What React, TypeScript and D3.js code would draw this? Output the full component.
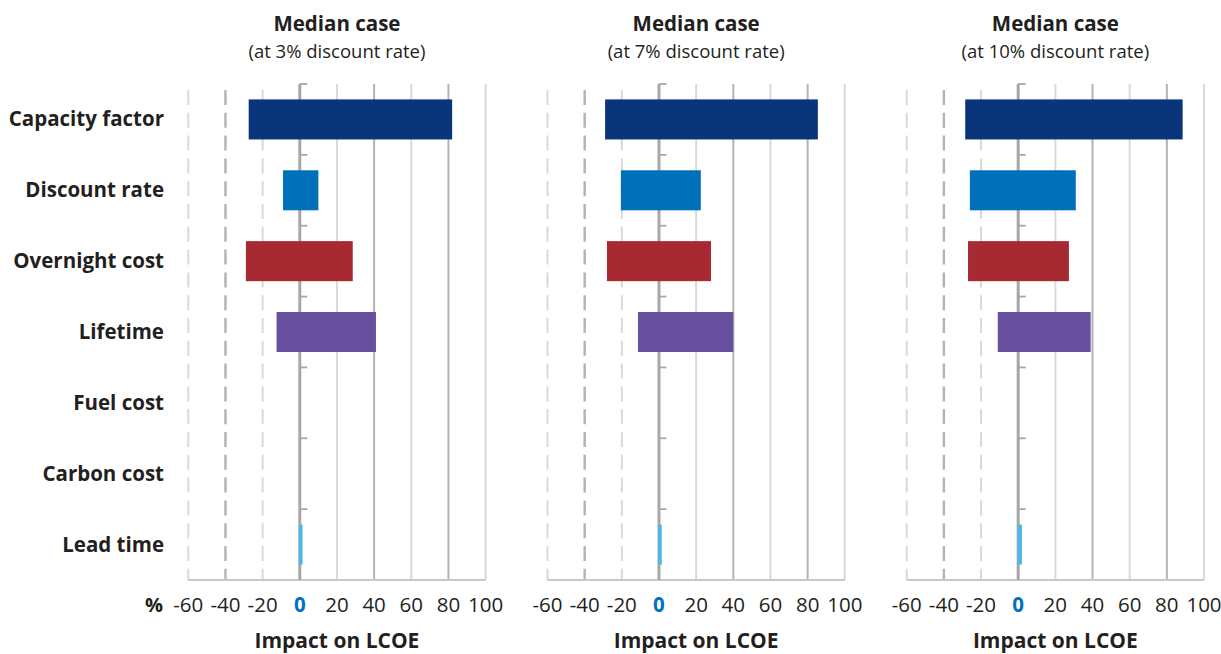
import React from "react";
import * as d3 from "d3";

const categories = [
  "Capacity factor",
  "Discount rate",
  "Overnight cost",
  "Lifetime",
  "Fuel cost",
  "Carbon cost",
  "Lead time",
];

const panelTitles = ["Median case", "Median case", "Median case"];
const panelSubtitles = [
  "(at 3% discount rate)",
  "(at 7% discount rate)",
  "(at 10% discount rate)",
];

// low / high impact on LCOE (%) per category, one pair of arrays per panel
const low3 = [-27.5, -9, -29, -12.5, 0, 0, -0.5];
const high3 = [82, 10, 28.5, 41, 0, 0, 1.5];
const low7 = [-29, -20.5, -28, -11.3, 0, 0, -0.5];
const high7 = [85.5, 22.5, 28, 40, 0, 0, 1.5];
const low10 = [-28.5, -26, -27, -11, 0, 0, -0.3];
const high10 = [88.5, 31, 27.3, 39, 0, 0, 2];

const panelLows = [low3, low7, low10];
const panelHighs = [high3, high7, high10];

const barColors = ["#0a357a", "#0070bb", "#a72a32", "#67509e", "#888888", "#888888", "#4cb8e8"];

const xTicks = [-60, -40, -20, 0, 20, 40, 60, 80, 100];
const xDomain = [-60, 100];

const axisTitle = "Impact on LCOE";
const unitLabel = "%";

const FONT = "'Open Sans', 'Noto Sans', sans-serif";
const W = 1221;
const H = 654;
const panelLeft = [188.3, 547.5, 906.7];
const panelWidth = 297.3;
const plotTop = 84;
const plotBottom = 580;

function Panel({ idx }: { idx: number }) {
  const x0 = panelLeft[idx];
  const x = d3.scaleLinear().domain(xDomain).range([x0, x0 + panelWidth]);
  const y = d3
    .scaleBand<string>()
    .domain(categories)
    .range([plotTop, plotBottom])
    .paddingInner(0.435)
    .paddingOuter(0.2175);
  const yb = d3.scaleBand<string>().domain(categories).range([plotTop, plotBottom]).padding(0);
  const zx = x(0);
  const lows = panelLows[idx];
  const highs = panelHighs[idx];
  const cx = (x(xDomain[0]) + x(xDomain[1])) / 2;

  return (
    <g>
      <text x={cx} y={31} textAnchor="middle" fontFamily={FONT} fontWeight={700} fontSize={20.5} fill="#231f20">
        {panelTitles[idx]}
      </text>
      <text x={cx} y={58} textAnchor="middle" fontFamily={FONT} fontSize={18.5} fill="#231f20">
        {panelSubtitles[idx]}
      </text>
      {/* gridlines */}
      {xTicks.map((t) => {
        if (t === 0) return null;
        const dark = t === -40 || t === 40 || t === 80;
        const color = dark ? "#b3b3b5" : "#d9d9db";
        if (t < 0) {
          return (
            <line
              key={t}
              x1={x(t)}
              x2={x(t)}
              y1={90}
              y2={plotBottom}
              stroke={color}
              strokeWidth={dark ? 2.4 : 2}
              strokeDasharray="15 7.8"
            />
          );
        }
        return <line key={t} x1={x(t)} x2={x(t)} y1={plotTop} y2={plotBottom} stroke={color} strokeWidth={2} />;
      })}
      {/* bottom axis line */}
      <line x1={x(xDomain[0])} x2={x(xDomain[1])} y1={plotBottom} y2={plotBottom} stroke="#c8c8ca" strokeWidth={2} />
      {/* zero axis */}
      <line x1={zx} x2={zx} y1={plotTop} y2={plotBottom} stroke="#a7a7aa" strokeWidth={3} />
      {categories.map((c) => (
        <line key={c} x1={zx} x2={zx + 7.5} y1={yb(c)!} y2={yb(c)!} stroke="#a7a7aa" strokeWidth={1.8} />
      ))}
      {/* bars (drawn over the zero axis) */}
      {categories.map((c, i) => {
        const lo = lows[i];
        const hi = highs[i];
        if (hi - lo <= 0) return null;
        return (
          <rect
            key={c}
            x={x(lo)}
            y={y(c)!}
            width={x(hi) - x(lo)}
            height={y.bandwidth()}
            fill={barColors[i]}
          />
        );
      })}
      {/* tick labels */}
      {xTicks.map((t) => (
        <text
          key={t}
          x={x(t)}
          y={611.5}
          textAnchor="middle"
          fontFamily={FONT}
          fontSize={20.5}
          fontWeight={t === 0 ? 700 : 400}
          fill={t === 0 ? "#0070c0" : "#231f20"}
        >
          {t}
        </text>
      ))}
      <text x={cx} y={648} textAnchor="middle" fontFamily={FONT} fontWeight={700} fontSize={21} fill="#231f20">
        {axisTitle}
      </text>
    </g>
  );
}

export default function App() {
  const yb = d3.scaleBand<string>().domain(categories).range([plotTop, plotBottom]).padding(0);
  return (
    <svg
      width={W}
      height={H}
      viewBox={`0 0 ${W} ${H}`}
      style={{ position: "absolute", left: 0, top: 0, background: "#ffffff" }}
    >
      <rect x={0} y={0} width={W} height={H} fill="#ffffff" />
      {[0, 1, 2].map((i) => (
        <Panel key={i} idx={i} />
      ))}
      {categories.map((c) => (
        <text
          key={c}
          x={164}
          y={yb(c)! + yb.bandwidth() / 2 + 7}
          textAnchor="end"
          fontFamily={FONT}
          fontWeight={700}
          fontSize={20.5}
          fill="#231f20"
        >
          {c}
        </text>
      ))}
      <text x={163} y={611.5} textAnchor="end" fontFamily={FONT} fontWeight={700} fontSize={20} fill="#231f20">
        {unitLabel}
      </text>
    </svg>
  );
}
